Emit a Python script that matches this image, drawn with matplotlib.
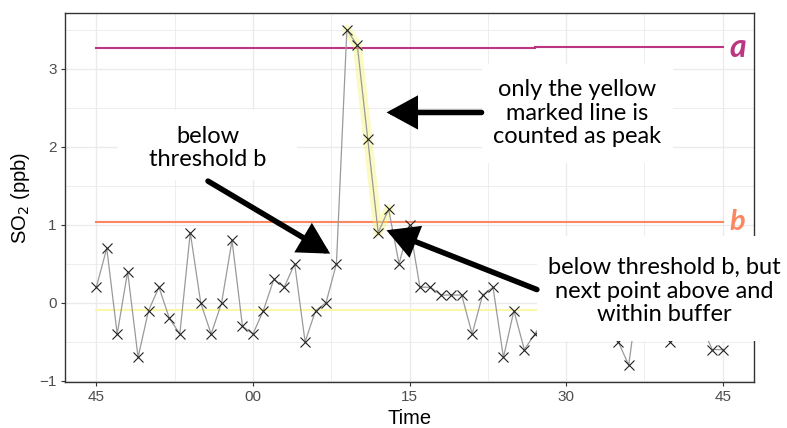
import numpy as np
import matplotlib.pyplot as plt
from matplotlib.patches import Rectangle

# SO2 readings, one per minute, from :45 to :45 the next hour
minutes = list(range(61))
so2 = [0.2, 0.7, -0.4, 0.4, -0.7, -0.1, 0.2, -0.2, -0.4, 0.9,
       0.0, -0.4, 0.0, 0.8, -0.3, -0.4, -0.1, 0.3, 0.2, 0.5,
       -0.5, -0.1, 0.0, 0.5, 3.5, 3.3, 2.1, 0.9, 1.2, 0.5,
       1.0, 0.2, 0.2, 0.1, 0.1, 0.1, -0.4, 0.1, 0.2, -0.7,
       -0.1, -0.6, -0.4, -0.2, 0.1, -0.3, 0.0, -0.2, 0.1, -0.2,
       -0.5, -0.8, 0.2, -0.1, 0.1, -0.5, -0.2, 0.0, -0.3, -0.6,
       -0.6]
peak_idx = [24, 25, 26, 27, 28]

thresh_a = [3.26, 3.275]      # before / after minute 42
thresh_a_break = 42
thresh_b = 1.03
baseline = -0.09

tick_pos = [0, 15, 30, 45, 60]
tick_lab = ["45", "00", "15", "30", "45"]

col_a = "#BC3580"
col_b = "#FB8760"
col_base = "#FCF7A6"

fig = plt.figure(figsize=(7.87, 4.28), dpi=100)
ax = fig.add_axes([65/787, 1-382/428, (754-65)/787, (382-13)/428])

W, H = 787, 428
def px(x, y):
    return (x / W, 1 - y / H)

# grid like theme_bw
ax.set_xlim(-3, 63)
ax.set_ylim(-1.015, 3.715)
ax.set_xticks(tick_pos)
ax.set_xticklabels(tick_lab)
ax.set_yticks([-1, 0, 1, 2, 3])
ax.set_xticks(np.arange(7.5, 60, 15), minor=True)
ax.set_yticks(np.arange(-0.5, 3.6, 1), minor=True)
ax.grid(which="major", color="#EBEBEB", lw=1.0, zorder=0)
ax.grid(which="minor", color="#EBEBEB", lw=0.6, zorder=0)
ax.set_axisbelow(True)
for s in ax.spines.values():
    s.set_color("#333333")
    s.set_linewidth(1.0)
ax.tick_params(which="major", length=3, color="#333333", labelsize=11,
               labelcolor="#4D4D4D", pad=3)
ax.tick_params(which="minor", length=0)
for lab in ax.get_xticklabels() + ax.get_yticklabels():
    lab.set_family("Liberation Sans")

ax.set_xlabel("Time", fontsize=14.5, family="Liberation Sans", labelpad=3)
ax.set_ylabel("SO$_2$ (ppb)", fontsize=14.5, family="Liberation Sans", labelpad=5)

# thresholds
ax.plot([minutes[0], thresh_a_break], [thresh_a[0]] * 2, color=col_a, lw=1.5, zorder=2)
ax.plot([thresh_a_break, minutes[-1]], [thresh_a[1]] * 2, color=col_a, lw=1.5, zorder=2)
ax.plot([minutes[0], minutes[-1]], [thresh_b] * 2, color=col_b, lw=1.5, zorder=2)
ax.plot([minutes[0], minutes[-1]], [baseline] * 2, color=col_base, lw=1.5, zorder=2)
ax.text(minutes[-1] + 0.6, thresh_a[1], "a", color=col_a, fontsize=23,
        fontweight="bold", style="italic", family="Lato", va="center", ha="left")
ax.text(minutes[-1] + 0.6, thresh_b, "b", color=col_b, fontsize=21,
        fontweight="bold", style="italic", family="Lato", va="center", ha="left")

# highlighted peak segment
ax.plot([minutes[i] for i in peak_idx], [so2[i] for i in peak_idx],
        color="#F6F36A", alpha=0.4, lw=6.5, solid_capstyle="round", zorder=3)

ax.plot(minutes, so2, color="#9A9A9A", lw=0.9, zorder=4)
ax.plot(minutes, so2, ls="none", marker="x", ms=7.5, mew=0.8, color="#222222", zorder=4)

# white boxes behind the notes
boxes = [(118, 110, 297, 180), (482, 64, 673, 163), (537, 236, 790, 341)]
for x0, y0, x1, y1 in boxes:
    r = Rectangle(px(x0, y1), (x1-x0)/W, (y1-y0)/H, transform=fig.transFigure,
                  facecolor="white", edgecolor="none", zorder=10, clip_on=False)
    ax.add_patch(r)

# arrows
arrows = [((10.7, 1.56), (22.4, 0.63)),
          ((36.9, 2.44), (27.8, 2.44)),
          ((42.2, 0.17), (27.8, 0.93))]
for tail, tip in arrows:
    ax.annotate("", xy=tip, xytext=tail,
                arrowprops=dict(arrowstyle="-|>,head_length=0.55,head_width=0.3",
                                lw=4, color="black", shrinkA=0, shrinkB=0,
                                mutation_scale=30, joinstyle="miter"),
                zorder=11, annotation_clip=False)

note_kw = dict(fontsize=17, family="Lato", ha="center", va="center",
               linespacing=1.15, zorder=12, transform=fig.transFigure)
ax.text(*px(208, 148), "below\nthreshold b", **note_kw)
ax.text(*px(577, 113), "only the yellow\nmarked line is\ncounted as peak", **note_kw)
ax.text(*px(664, 291), "below threshold b, but\nnext point above and\nwithin buffer", **note_kw)

fig.savefig("out.png", dpi=100)
